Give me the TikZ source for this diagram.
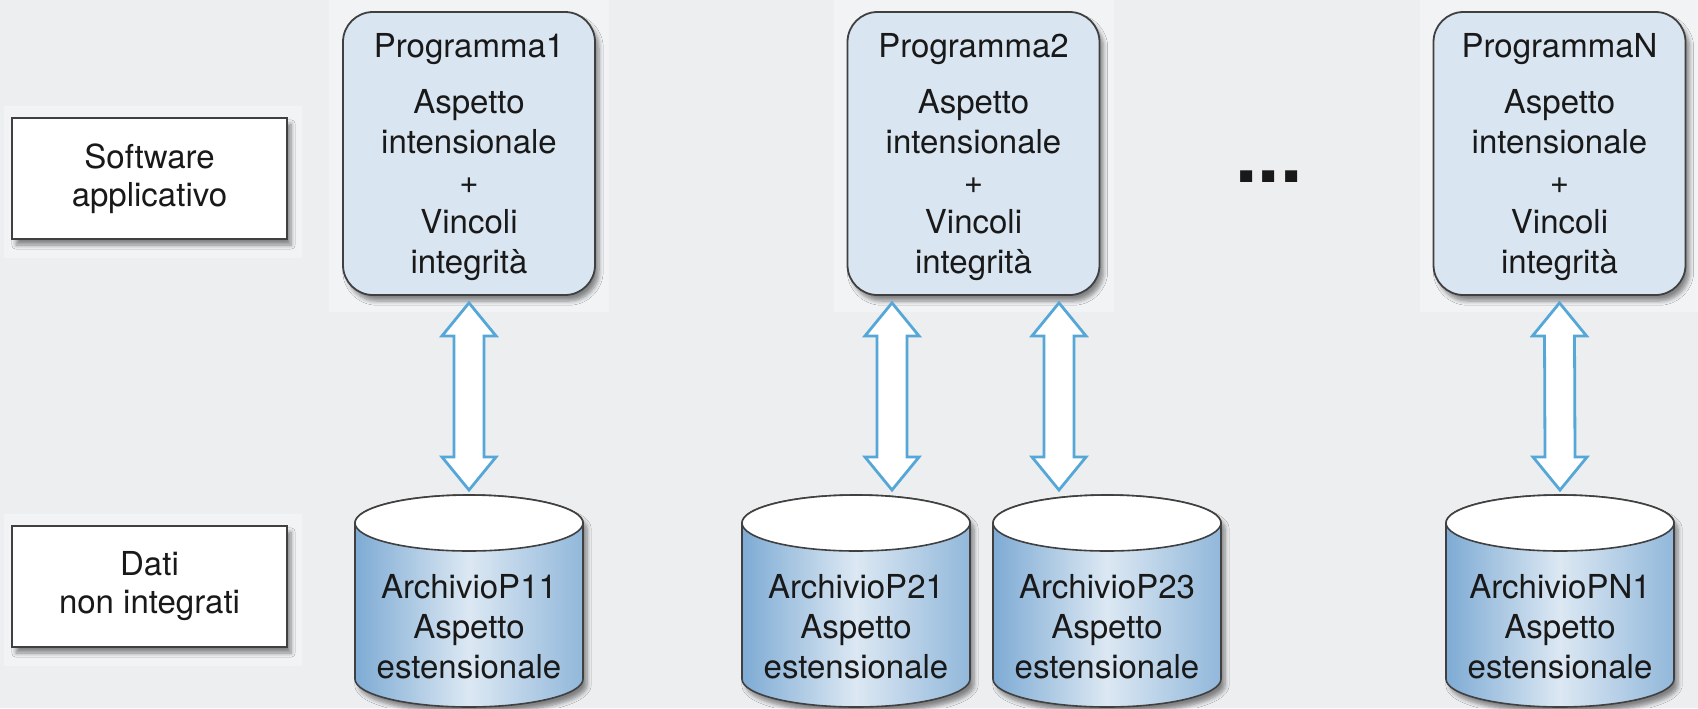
\documentclass[tikz,border=0pt]{standalone}
\usepackage{fontspec}
\setmainfont{TeX Gyre Heros}
\usetikzlibrary{calc,shadows.blur}

\definecolor{sfondo}{HTML}{EDEEF0}
\definecolor{pannello}{HTML}{F2F3F5}
\definecolor{azzurro}{HTML}{D9E5F1}
\definecolor{bordo}{HTML}{404040}
\definecolor{freccia}{HTML}{55A7D7}
\definecolor{cilscuro}{HTML}{7EABD4}
\definecolor{cilchiaro}{HTML}{DCE8F3}

\begin{document}
\begin{tikzpicture}[x=0.5pt,
            y=0.5pt,
            text=black!90,
            font=\fontsize{16.5}{20}\selectfont,
            ombra/.style={blur shadow={shadow xshift=2pt, shadow yshift=-3pt,
                          shadow blur steps=6, shadow opacity=45}},
            etichetta/.style={draw=bordo, line width=0.9pt, fill=white, ombra,
                          minimum width=137.5pt, minimum height=60.5pt,
                          align=center, inner sep=0pt,
                          font=\fontsize{16.5}{19}\selectfont},
            programma/.style={draw=bordo, line width=0.9pt, fill=azzurro,
                          rounded corners=15pt, ombra,
                          minimum width=126pt, minimum height=141.5pt,
                          align=center, inner sep=0pt},
            archivio/.style={draw=bordo, line width=0.8pt, left color=cilscuro,
                          right color=cilscuro!85!white, middle color=cilchiaro, ombra},
            dblarr/.style={draw=freccia, line width=1.4pt, fill=white}]

        % sfondo e pannelli chiari
        \fill[sfondo] (0,0) rectangle (1698,-708);
        \useasboundingbox (0,0) rectangle (1698,-708);
        \fill[pannello] (4,-106) rectangle (302,-258);
        \fill[pannello] (4,-514) rectangle (302,-666);
        \foreach \px in {469,973.5,1559.5}
            \fill[pannello] (\px-140,0) rectangle (\px+140,-312);

        % livelli
        \node[etichetta] (sw)   at (149.5,-178.5) {Software\\applicativo};
        \node[etichetta] (dati) at (149.5,-586.5) {Dati\\non integrati};

        % programmi
        \node[programma] (prog1) at (469,-153.5)
            {\rule{0pt}{15.5pt}Programma1\\[8pt]Aspetto\\intensionale\\+\\Vincoli\\integrità};
        \node[programma] (prog2) at (973.5,-153.5)
            {\rule{0pt}{15.5pt}Programma2\\[8pt]Aspetto\\intensionale\\+\\Vincoli\\integrità};
        \node[programma] (progN) at (1559.5,-153.5)
            {\rule{0pt}{15.5pt}ProgrammaN\\[8pt]Aspetto\\intensionale\\+\\Vincoli\\integrità};
        \node[font=\fontsize{40}{40}\selectfont\bfseries] (puntini) at (1269,-177) {...};

        % archivi
        \foreach \id/\cx/\nome in {p11/469/P11, p21/856/P21, p23/1107/P23, pn1/1560/PN1} {
            \path[archivio] (\cx-114,-523) -- (\cx-114,-679)
                arc[start angle=180, end angle=360, x radius=114, y radius=28]
                -- (\cx+114,-523)
                arc[start angle=0, end angle=180, x radius=114, y radius=28] -- cycle;
            \draw[bordo, line width=0.8pt, fill=white] (\cx,-523) ellipse [x radius=114, y radius=28];
            \coordinate (\id top) at (\cx,-495);
            \node[align=center] (\id) at (\cx,-627) {Archivio\nome\\Aspetto\\estensionale};
        }

        % frecce doppie
        \coordinate (t1) at (prog1.south);
        \coordinate (b1) at (p11top);
        \coordinate (t2) at ([xshift=-40.75pt]prog2.south);
        \coordinate (b2) at (t2 |- p21top);
        \coordinate (t3) at ([xshift=42.75pt]prog2.south);
        \coordinate (b3) at (t3 |- p23top);
        \coordinate (t4) at (progN.south);
        \coordinate (b4) at (pn1top);
        \foreach \i in {1,...,4}
            \draw[dblarr] ($(t\i)+(0,-7)$) -- ++(27,-33) -- ++(-12,0)
                -- ($(b\i)+(15,38)$) -- ++(12,0) -- ($(b\i)+(0,5)$)
                -- ++(-27,33) -- ++(12,0) -- ($(t\i)+(-15,-40)$) -- ++(-12,0) -- cycle;

    \end{tikzpicture}
\end{document}
